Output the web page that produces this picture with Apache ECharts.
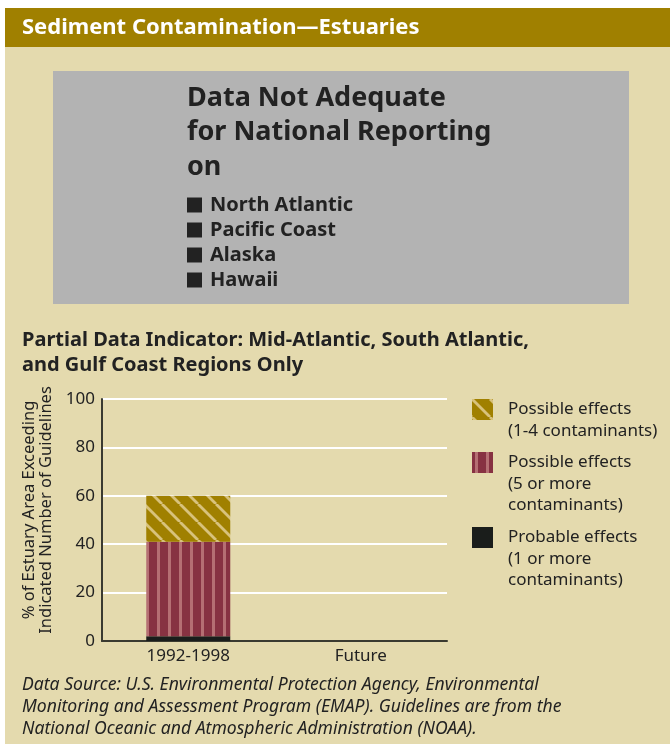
<!DOCTYPE html>
<html><head><meta charset="utf-8">
<script src="https://cdn.jsdelivr.net/npm/echarts@6/dist/echarts.min.js"></script>
<style>html,body{margin:0;padding:0;background:#fff}#c{width:670px;height:746px}</style>
</head><body><div id="c"></div>
<script>
// ---- data ----
const categories = ['1992-1998', 'Future'];
const probable1plus = [2, null];
const possible5plus = [39, null];
const possible1to4 = [19, null];
const yTickValues = [0, 20, 40, 60, 80, 100];
const seriesNames = [
  'Possible effects\n(1-4 contaminants)',
  'Possible effects\n(5 or more\ncontaminants)',
  'Probable effects\n(1 or more\ncontaminants)'
];
const notAdequateRegions = ['North Atlantic', 'Pacific Coast', 'Alaska', 'Hawaii'];
const headerTitle = 'Sediment Contamination\u2014Estuaries';
const notAdequateHeading = 'Data Not Adequate\nfor National Reporting\non';
const chartSubtitle = 'Partial Data Indicator: Mid-Atlantic, South Atlantic,\nand Gulf Coast Regions Only';
const yAxisName = '% of Estuary Area Exceeding\nIndicated Number of Guidelines';
const sourceNote = 'Data Source: U.S. Environmental Protection Agency, Environmental\nMonitoring and Assessment Program (EMAP). Guidelines are from the\nNational Oceanic and Atmospheric Administration (NOAA).';

// ---- patterns ----
function vertStripes() {
  const c = document.createElement('canvas'); c.width = 11; c.height = 4;
  const g = c.getContext('2d');
  g.fillStyle = '#873242'; g.fillRect(0, 0, 11, 4);
  g.fillStyle = '#B56F73'; g.fillRect(3, 0, 3, 4);
  return c;
}
function diagStripes() {
  const s = 18;
  const c = document.createElement('canvas'); c.width = s; c.height = s;
  const g = c.getContext('2d');
  g.fillStyle = '#A08000'; g.fillRect(0, 0, s, s);
  g.strokeStyle = '#D8C27C'; g.lineWidth = 2.8;
  for (const x0 of [-s, 0, s]) {
    g.beginPath(); g.moveTo(x0, 0); g.lineTo(x0 + s, s); g.stroke();
  }
  return c;
}
const patYellow = { image: diagStripes(), repeat: 'repeat' };
const patMaroon = { image: vertStripes(), repeat: 'repeat' };

const FF = '"Noto Sans", "Open Sans", sans-serif';
const chart = echarts.init(document.getElementById('c'), null, { renderer: 'canvas' });

const LEG_LH = 21.5;
function legendAt(name, iconTop) {
  const n = name.split('\n').length;
  // pad with empty leading lines so the first text line sits level with the icon
  const over = (2 * n - 1) * LEG_LH / 2 - 10.5;
  return {
    data: [name], left: 472, top: iconTop - over, padding: 0,
    itemWidth: 21, itemHeight: 21, icon: 'rect', selectedMode: false,
    formatter: nm => '\n'.repeat(n - 1) + nm,
    textStyle: { fontFamily: FF, fontSize: 17, color: '#222', lineHeight: LEG_LH, padding: [0, 0, 0, 10] }
  };
}

chart.setOption({
  animation: false,
  graphic: [
    { type: 'rect', z: -10, shape: { x: 5, y: 8, width: 665, height: 736 }, style: { fill: '#E4DAAE' } },
    { type: 'rect', z: -9, shape: { x: 5, y: 8, width: 665, height: 39 }, style: { fill: '#A08000' } },
    { type: 'rect', z: -9, shape: { x: 53, y: 71, width: 576, height: 233 }, style: { fill: '#B3B3B3' } }
  ],
  title: [
    { text: headerTitle, left: 22, top: 15, padding: 0,
      textStyle: { fontFamily: FF, fontSize: 22, fontWeight: 'bold', color: '#fff', lineHeight: 26 } },
    { text: notAdequateHeading, left: 187, top: 81, padding: 0,
      textStyle: { fontFamily: FF, fontSize: 27, fontWeight: 'bold', color: '#222', lineHeight: 34.5 } },
    { text: notAdequateRegions.map(r => '{sq|}{t|' + r + '}').join('\n'), left: 187, top: 192.5, padding: 0,
      textStyle: { fontFamily: FF, fontSize: 20, fontWeight: 'bold', color: '#222', lineHeight: 25,
        rich: {
          sq: { width: 15, height: 15, backgroundColor: '#222' },
          t: { fontFamily: FF, fontSize: 20, fontWeight: 'bold', color: '#222', lineHeight: 25, padding: [0, 0, 0, 8] }
        } } },
    { text: chartSubtitle, left: 22, top: 328, padding: 0,
      textStyle: { fontFamily: FF, fontSize: 20, fontWeight: 'bold', color: '#222', lineHeight: 25 } },
    { text: sourceNote, left: 22, top: 674, padding: 0,
      textStyle: { fontFamily: FF, fontSize: 17.6, fontStyle: 'italic', fontWeight: 'normal', color: '#222', lineHeight: 22 } }
  ],
  legend: [
    legendAt(seriesNames[0], 399),
    legendAt(seriesNames[1], 452),
    legendAt(seriesNames[2], 527)
  ],
  grid: { left: 102, right: 223, top: 399, bottom: 105, containLabel: false },
  xAxis: {
    type: 'category', data: categories,
    axisLine: { lineStyle: { color: '#3a3a30', width: 2 } },
    axisTick: { show: false },
    axisLabel: { fontFamily: FF, fontSize: 17, color: '#222', margin: 7 }
  },
  yAxis: {
    type: 'value', min: yTickValues[0], max: yTickValues[yTickValues.length - 1], interval: 20,
    name: yAxisName, nameLocation: 'middle', nameGap: 46,
    nameTextStyle: { fontFamily: FF, fontSize: 16.5, color: '#222', lineHeight: 17, padding: [0, 0, 0, 20] },
    axisLine: { show: true, lineStyle: { color: '#3a3a30', width: 2 } },
    axisTick: { show: false },
    splitLine: { lineStyle: { color: '#ffffff', width: 2 } },
    axisLabel: { fontFamily: FF, fontSize: 17, color: '#222', margin: 7 }
  },
  series: [
    { name: seriesNames[2], type: 'bar', stack: 's', data: probable1plus, barWidth: 84,
      itemStyle: { color: '#1a1d1b' } },
    { name: seriesNames[1], type: 'bar', stack: 's', data: possible5plus, barWidth: 84,
      itemStyle: { color: patMaroon } },
    { name: seriesNames[0], type: 'bar', stack: 's', data: possible1to4, barWidth: 84,
      itemStyle: { color: patYellow } }
  ]
});
</script></body></html>
